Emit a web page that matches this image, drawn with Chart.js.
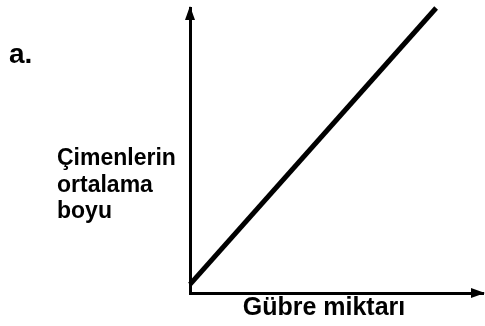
<!DOCTYPE html>
<html>
<head>
<meta charset="utf-8">
<script src="https://cdn.jsdelivr.net/npm/chart.js@4"></script>
<style>
  html, body { margin: 0; padding: 0; background: #fff; }
  #wrap { width: 485px; height: 326px; }
</style>
</head>
<body>
<div id="wrap"><canvas id="grassChart"></canvas></div>
<script>
// gübre miktarı -> çimenlerin ortalama boyu (doğrusal artış)
var fertilizer = [0, 8.4];
var grassHeight = [0.3, 10];
var yLabelLines = ['Çimenlerin', 'ortalama', 'boyu'];
var xLabel = 'Gübre miktarı';
var partLabel = 'a.';

var points = fertilizer.map(function(v, i) {
	return { x: v, y: grassHeight[i] };
});

// eksen okları ve yazılar
var axisDecor = {
	id: 'axisDecor',
	afterDraw: function(chart) {
		var ctx = chart.ctx;
		var xs = chart.scales.x;
		var ys = chart.scales.y;
		var x0 = xs.getPixelForValue(0);
		var y0 = ys.getPixelForValue(0);
		var top = ys.top;
		var right = xs.right;
		ctx.save();
		ctx.fillStyle = '#000';
		// y ekseni oku
		ctx.beginPath();
		ctx.moveTo(x0, top - 2);
		ctx.lineTo(x0 - 5, top + 12);
		ctx.lineTo(x0 + 5, top + 12);
		ctx.closePath();
		ctx.fill();
		// x ekseni oku
		ctx.beginPath();
		ctx.moveTo(right + 2, y0);
		ctx.lineTo(right - 12, y0 - 5);
		ctx.lineTo(right - 12, y0 + 5);
		ctx.closePath();
		ctx.fill();

		ctx.textBaseline = 'alphabetic';
		ctx.font = 'bold 28px "Liberation Sans", Arial, sans-serif';
		ctx.textAlign = 'left';
		ctx.fillText(partLabel, 9, 63);

		ctx.font = 'bold 23px "Liberation Sans", Arial, sans-serif';
		yLabelLines.forEach(function(t, i) {
			ctx.fillText(t, 57, 165 + i * 26.5);
		});

		ctx.font = 'bold 25px "Liberation Sans", Arial, sans-serif';
		ctx.textAlign = 'center';
		ctx.fillText(xLabel, 324, 315);
		ctx.restore();
	}
};

var chartArea = document.getElementById('grassChart').getContext('2d');
var myChart = new Chart(chartArea, {
	type: 'scatter',
	data: {
		datasets: [{
			data: points,
			showLine: true,
			borderColor: '#000',
			borderWidth: 5,
			pointRadius: 0,
			clip: false
		}]
	},
	options: {
		responsive: true,
		maintainAspectRatio: false,
		animation: false,
		layout: {
			padding: { left: 182, top: 8, right: 2, bottom: 25 }
		},
		plugins: {
			legend: { display: false },
			tooltip: { enabled: false }
		},
		scales: {
			x: {
				type: 'linear',
				min: 0,
				max: 10,
				grid: { display: false },
				ticks: { display: false },
				border: { display: true, color: '#000', width: 3 }
			},
			y: {
				type: 'linear',
				min: 0,
				max: 10,
				grid: { display: false },
				ticks: { display: false },
				border: { display: true, color: '#000', width: 3 }
			}
		}
	},
	plugins: [axisDecor]
});
</script>
</body>
</html>
